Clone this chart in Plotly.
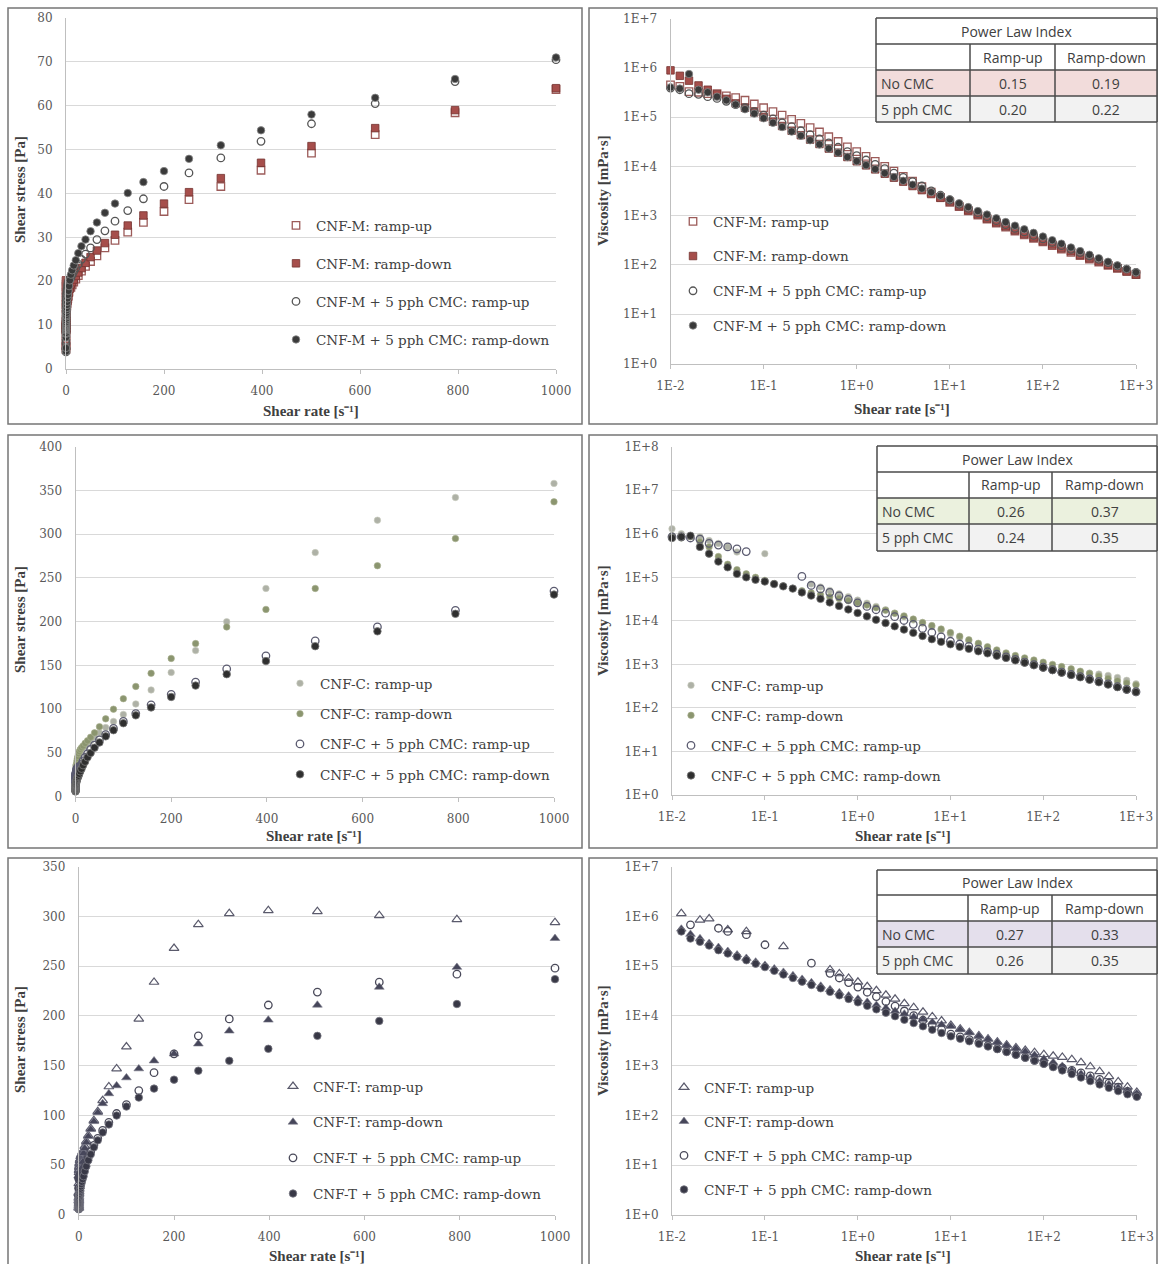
import plotly.graph_objects as go

W, H = 1159, 1264

# ---------------- data ----------------
RATE = [0.01, 0.0126, 0.0158, 0.02, 0.0251, 0.0316, 0.0398, 0.0501, 0.0631, 0.0794,
        0.1, 0.126, 0.158, 0.2, 0.251, 0.316, 0.398, 0.501, 0.631, 0.794,
        1, 1.26, 1.58, 2, 2.51, 3.16, 3.98, 5.01, 6.31, 7.94,
        10, 12.6, 15.8, 20, 25.1, 31.6, 39.8, 50.1, 63.1, 79.4,
        100, 126, 158, 200, 251, 316, 398, 501, 631, 794, 1000]

# ---- CNF-M ----
M_UP_STRESS = [4.5, 5.29, 5.21, 6.4, 7.53, 9.48, 10.75, 12.5, 13.9, 14.7,
               15.5, 16.4, 17.4, 18.0, 18.8, 19.3, 19.9, 20.0, 20.2, 19.9,
               20.0, 20.2, 20.1, 20.0, 20.1, 19.9, 19.9, 19.5, 18.9, 18.7,
               18.6, 19.2, 19.8, 20.5, 21.3, 22.3, 23.4, 24.5, 25.8, 27.6,
               29.3, 31.2, 33.4, 35.9, 38.6, 41.6, 45.3, 49.2, 53.4, 58.4, 63.7]
M_DOWN_STRESS = [8.9, 8.69, 8.69, 8.8, 9.04, 9.16, 9.35, 9.52, 9.78, 9.93,
                 10.0, 10.2, 10.4, 10.6, 10.8, 11.1, 11.3, 11.5, 12.0, 12.3,
                 12.7, 13.2, 13.7, 14.2, 14.8, 15.5, 15.9, 16.5, 17.4, 18.3,
                 19.3, 19.8, 20.4, 21.2, 22.0, 23.0, 24.2, 25.5, 27.0, 28.7,
                 30.6, 32.7, 35.0, 37.7, 40.3, 43.5, 47.0, 50.8, 54.9, 59.0, 64.0]
M_CMC_UP_STRESS = [3.9, 4.54, 4.74, 5.8, 6.53, 7.58, 8.36, 9.02, 9.78, 10.3,
                   11.0, 11.6, 12.2, 12.8, 13.3, 13.9, 14.3, 15.0, 15.5, 15.9,
                   16.5, 17.0, 17.4, 18.0, 18.3, 19.0, 19.5, 20.0, 20.2, 20.6,
                   20.8, 21.5, 22.2, 23.0, 23.9, 25.0, 26.2, 27.6, 29.5, 31.5,
                   33.7, 36.1, 38.8, 41.6, 44.7, 48.1, 51.9, 55.9, 60.5, 65.5, 70.5]
M_CMC_DOWN_STRESS = [4.0, 4.79, 11.85, 7.2, 8.03, 8.22, 8.76, 9.02, 9.15, 9.37,
                     9.5, 9.7, 9.95, 10.2, 10.5, 10.7, 11.1, 11.5, 12.0, 12.3,
                     12.8, 13.4, 13.9, 14.6, 15.3, 16.1, 16.9, 17.8, 18.9, 20.2,
                     21.5, 22.5, 23.6, 24.8, 26.4, 28.0, 29.5, 31.4, 33.4, 35.6,
                     37.7, 40.1, 42.6, 45.1, 47.9, 51.0, 54.4, 58.0, 61.8, 66.1, 71.0]

M_UP_VISC = [4.5e5, 4.2e5, 3.3e5, 3.2e5, 3.0e5, 3.0e5, 2.7e5, 2.5e5, 2.2e5, 1.85e5,
             1.55e5, 1.3e5, 1.1e5, 9.0e4, 7.5e4, 6.1e4, 5.0e4, 4.0e4, 3.2e4, 2.5e4,
             2.0e4, 1.6e4, 1.27e4, 1.0e4, 8.0e3, 6.3e3, 5.0e3, 3.9e3, 3.0e3, 2.35e3,
             1860, 1524, 1253, 1025, 849, 706, 588, 489, 409, 348,
             293, 248, 211, 180, 154, 132, 114, 98, 85, 74, 64]
M_DOWN_VISC = [8.9e5, 6.9e5, 5.5e5, 4.4e5, 3.6e5, 2.9e5, 2.35e5, 1.9e5, 1.55e5, 1.25e5,
               1.0e5, 8.1e4, 6.6e4, 5.3e4, 4.3e4, 3.5e4, 2.85e4, 2.3e4, 1.9e4, 1.55e4,
               1.27e4, 1.05e4, 8.7e3, 7.1e3, 5.9e3, 4.9e3, 4.0e3, 3.3e3, 2.75e3, 2.3e3,
               1930, 1571, 1291, 1060, 876, 728, 608, 509, 428, 361,
               306, 260, 222, 189, 161, 138, 118, 101, 87, 74, 64]
M_CMC_UP_VISC = [3.9e5, 3.6e5, 3.0e5, 2.9e5, 2.6e5, 2.4e5, 2.1e5, 1.8e5, 1.55e5, 1.3e5,
                 1.1e5, 9.2e4, 7.7e4, 6.4e4, 5.3e4, 4.4e4, 3.6e4, 3.0e4, 2.45e4, 2.0e4,
                 1.65e4, 1.35e4, 1.1e4, 9.0e3, 7.3e3, 6.0e3, 4.9e3, 4.0e3, 3.2e3, 2.6e3,
                 2080, 1706, 1405, 1150, 952, 791, 658, 551, 468, 397,
                 337, 287, 246, 208, 178, 152, 130, 112, 96, 82, 70.5]
M_CMC_DOWN_VISC = [4.0e5, 3.8e5, 7.5e5, 3.6e5, 3.2e5, 2.6e5, 2.2e5, 1.8e5, 1.45e5, 1.18e5,
                   9.5e4, 7.7e4, 6.3e4, 5.1e4, 4.2e4, 3.4e4, 2.8e4, 2.3e4, 1.9e4, 1.55e4,
                   1.28e4, 1.06e4, 8.8e3, 7.3e3, 6.1e3, 5.1e3, 4.25e3, 3.55e3, 3.0e3, 2.55e3,
                   2150, 1786, 1494, 1240, 1052, 886, 741, 627, 529, 448,
                   377, 318, 270, 226, 191, 161, 137, 116, 98, 83, 71]

# ---- CNF-C ----
C_UP_STRESS = [13.0, 12.6, 14.2, 17.0, 17.6, 19.0, 19.9, 19.0, None, None,
               35.0, None, None, None, None, 22.1, 23.9, 25.1, 26.5, 28.6,
               30.0, 32.1, 34.0, 36.0, 37.7, 39.5, 41.8, 44.1, 46.1, 48.4,
               50, 52, 55, 57, 60, 64, 68, 73, 79, 86,
               94, 106, 122, 142, 167, 200, 238, 279, 316, 342, 358]
C_DOWN_STRESS = [9.0, 10.1, 13.4, 13.0, 12.6, 9.5, 8.0, 7.5, 7.6, 7.9,
                 8.5, 9.1, 10.0, 11.0, 12.3, 13.9, 15.9, 18.0, 20.5, 23.0,
                 26.0, 29.0, 31.6, 35.0, 37.7, 41.1, 43.8, 46.1, 49.2, 51.6,
                 54, 56, 58, 61, 64, 68, 73, 80, 89, 100,
                 112, 126, 141, 158, 175, 194, 214, 238, 264, 295, 337]
C_CMC_UP_STRESS = [8.5, 10.7, 12.6, 15.0, 15.1, 17.4, 19.9, 22.5, 24.6, None,
                   None, None, None, None, 26.4, 20.5, 21.5, 22.5, 23.7, 24.6,
                   26.0, 27.1, 28.4, 30.0, 31.4, 32.2, 33.0, 33.6, 34.1, 34.1,
                   34, 37, 41, 45, 49, 54, 59, 65, 71, 78,
                   86, 95, 105, 117, 131, 146, 161, 178, 194, 213, 235]
C_CMC_DOWN_STRESS = [8.0, 10.7, 14.2, 10.0, 8.8, 7.3, 6.8, 6.0, 6.3, 7.0,
                     8.0, 8.8, 9.8, 11.0, 11.3, 12.0, 12.7, 13.3, 13.9, 14.5,
                     15.2, 16.0, 16.7, 17.8, 18.8, 19.9, 21.1, 22.5, 24.0, 26.2,
                     29, 32, 36, 40, 45, 50, 56, 62, 69, 76,
                     84, 93, 102, 114, 127, 140, 155, 172, 189, 209, 231]

C_UP_VISC = [1.3e6, 1.0e6, 9.0e5, 8.5e5, 7.0e5, 6.0e5, 5.0e5, 3.8e5, None, None,
             3.5e5, None, None, None, None, 7.0e4, 6.0e4, 5.0e4, 4.2e4, 3.6e4,
             3.0e4, 2.55e4, 2.15e4, 1.8e4, 1.5e4, 1.25e4, 1.05e4, 8.8e3, 7.3e3, 6.1e3,
             5000, 4127, 3481, 2850, 2390, 2025, 1709, 1457, 1252, 1083,
             940, 841, 772, 710, 665, 633, 598, 557, 501, 431, 358]
C_DOWN_VISC = [9.0e5, 8.0e5, 8.5e5, 6.5e5, 5.0e5, 3.0e5, 2.0e5, 1.5e5, 1.2e5, 1.0e5,
               8.5e4, 7.2e4, 6.3e4, 5.5e4, 4.9e4, 4.4e4, 4.0e4, 3.6e4, 3.25e4, 2.9e4,
               2.6e4, 2.3e4, 2.0e4, 1.75e4, 1.5e4, 1.3e4, 1.1e4, 9.2e3, 7.8e3, 6.5e3,
               5400, 4444, 3671, 3050, 2550, 2152, 1834, 1597, 1410, 1259,
               1120, 1000, 892, 790, 697, 614, 538, 475, 418, 372, 337]
C_CMC_UP_VISC = [8.5e5, 8.5e5, 8.0e5, 7.5e5, 6.0e5, 5.5e5, 5.0e5, 4.5e5, 3.9e5, None,
                 None, None, None, None, 1.05e5, 6.5e4, 5.4e4, 4.5e4, 3.75e4, 3.1e4,
                 2.6e4, 2.15e4, 1.8e4, 1.5e4, 1.25e4, 1.02e4, 8.3e3, 6.7e3, 5.4e3, 4.3e3,
                 3400, 2937, 2595, 2250, 1952, 1709, 1482, 1297, 1125, 982,
                 860, 754, 665, 585, 522, 462, 405, 355, 307, 268, 235]
C_CMC_DOWN_VISC = [8.0e5, 8.5e5, 9.0e5, 5.0e5, 3.5e5, 2.3e5, 1.7e5, 1.2e5, 1.0e5, 8.8e4,
                   8.0e4, 7.0e4, 6.2e4, 5.5e4, 4.5e4, 3.8e4, 3.2e4, 2.65e4, 2.2e4, 1.83e4,
                   1.52e4, 1.27e4, 1.06e4, 8.9e3, 7.5e3, 6.3e3, 5.3e3, 4.5e3, 3.8e3, 3.3e3,
                   2900, 2540, 2278, 2000, 1793, 1582, 1407, 1238, 1094, 957,
                   840, 738, 646, 570, 506, 443, 389, 343, 300, 263, 231]

# ---- CNF-T ----
T_UP_STRESS = [None, 14.5, None, 17.0, 22.6, None, 21.5, None, 31.6, None,
               None, None, 39.5, None, None, None, None, 42.6, 44.8, 45.7,
               48.0, 49.1, 51.2, 52.6, 55.0, 56.2, 58.9, 60.1, 61.2, 63.5,
               65, 69, 74, 80, 87, 95, 104, 115, 129, 147,
               169, 197, 234, 268, 292, 303, 306, 305, 301, 297, 294]
T_DOWN_STRESS = [None, 7.06, 6.95, 7.2, 7.28, 7.58, 7.96, 8.52, 9.15, 9.69,
                 10.5, 11.2, 12.0, 13.0, 13.8, 14.9, 15.9, 17.0, 18.6, 20.2,
                 22.0, 23.9, 26.1, 28.6, 31.4, 34.8, 38.2, 42.6, 47.3, 53.2,
                 62, 67, 73, 79, 86, 94, 103, 112, 122, 130,
                 138, 147, 155, 162, 172, 185, 196, 211, 229, 249, 278]
T_CMC_UP_STRESS = [None, None, 10.7, None, None, 18.3, 19.9, None, 27.1, None,
                   27.0, None, None, None, None, 36.3, None, 36.1, 36.6, 37.3,
                   38.0, 37.8, 38.7, 39.0, 39.7, 39.8, 40.6, 41.1, 41.6, 42.1,
                   43, 48, 53, 58, 64, 70, 77, 85, 93, 102,
                   111, 125, 143, 162, 180, 197, 211, 224, 234, 242, 248]
T_CMC_DOWN_STRESS = [None, 6.3, 5.69, 6.2, 6.53, 6.64, 7.16, 7.77, 8.33, 8.89,
                     9.6, 10.2, 10.7, 11.6, 12.3, 13.3, 14.3, 15.3, 16.4, 17.5,
                     18.8, 20.2, 21.5, 23.2, 24.8, 26.5, 28.7, 31.1, 33.4, 36.1,
                     39, 44, 49, 55, 61, 68, 75, 83, 91, 100,
                     109, 118, 127, 136, 145, 155, 167, 180, 195, 212, 237]

T_UP_VISC = [None, 1.15e6, None, 8.5e5, 9.0e5, None, 5.4e5, None, 5.0e5, None,
             None, None, 2.5e5, None, None, None, None, 8.5e4, 7.1e4, 5.75e4,
             4.8e4, 3.9e4, 3.24e4, 2.63e4, 2.19e4, 1.78e4, 1.48e4, 1.2e4, 9.7e3, 8.0e3,
             6500, 5476, 4684, 4000, 3466, 3006, 2613, 2295, 2044, 1851,
             1690, 1563, 1481, 1340, 1163, 959, 769, 609, 477, 374, 294]
T_DOWN_VISC = [None, 5.6e5, 4.4e5, 3.6e5, 2.9e5, 2.4e5, 2.0e5, 1.7e5, 1.45e5, 1.22e5,
               1.05e5, 8.9e4, 7.6e4, 6.5e4, 5.5e4, 4.7e4, 4.0e4, 3.4e4, 2.95e4, 2.55e4,
               2.2e4, 1.9e4, 1.65e4, 1.43e4, 1.25e4, 1.1e4, 9.6e3, 8.5e3, 7.5e3, 6.7e3,
               6200, 5317, 4620, 3950, 3426, 2975, 2588, 2236, 1933, 1637,
               1380, 1167, 981, 810, 685, 585, 492, 421, 363, 314, 278]
T_CMC_UP_VISC = [None, None, 6.8e5, None, None, 5.8e5, 5.0e5, None, 4.3e5, None,
                 2.7e5, None, None, None, None, 1.15e5, None, 7.2e4, 5.8e4, 4.7e4,
                 3.8e4, 3.0e4, 2.45e4, 1.95e4, 1.58e4, 1.26e4, 1.02e4, 8.2e3, 6.6e3, 5.3e3,
                 4300, 3810, 3354, 2900, 2550, 2215, 1935, 1697, 1474, 1285,
                 1110, 992, 905, 810, 717, 623, 530, 447, 371, 305, 248]
T_CMC_DOWN_VISC = [None, 5.0e5, 3.6e5, 3.1e5, 2.6e5, 2.1e5, 1.8e5, 1.55e5, 1.32e5, 1.12e5,
                   9.6e4, 8.1e4, 6.8e4, 5.8e4, 4.9e4, 4.2e4, 3.6e4, 3.05e4, 2.6e4, 2.2e4,
                   1.88e4, 1.6e4, 1.36e4, 1.16e4, 9.9e3, 8.4e3, 7.2e3, 6.2e3, 5.3e3, 4.55e3,
                   3900, 3492, 3101, 2750, 2430, 2152, 1884, 1657, 1442, 1259,
                   1090, 937, 804, 680, 578, 491, 420, 359, 309, 267, 237]

NAMES_M = ["CNF-M: ramp-up", "CNF-M: ramp-down", "CNF-M + 5 pph CMC: ramp-up", "CNF-M + 5 pph CMC: ramp-down"]
NAMES_C = ["CNF-C: ramp-up", "CNF-C: ramp-down", "CNF-C + 5 pph CMC: ramp-up", "CNF-C + 5 pph CMC: ramp-down"]
NAMES_T = ["CNF-T: ramp-up", "CNF-T: ramp-down", "CNF-T + 5 pph CMC: ramp-up", "CNF-T + 5 pph CMC: ramp-down"]

# power law index tables
TABLE_TITLE = "Power Law Index"
TABLE_COLS = ["Ramp-up", "Ramp-down"]
TABLE_ROWS = ["No CMC", "5 pph CMC"]
PLI_M = [["0.15", "0.19"], ["0.20", "0.22"]]
PLI_C = [["0.26", "0.37"], ["0.24", "0.35"]]
PLI_T = [["0.27", "0.33"], ["0.26", "0.35"]]

LIN_TICKS_X = [0, 200, 400, 600, 800, 1000]
LOG_X_VALS = [0.01, 0.1, 1, 10, 100, 1000]
LOG_X_TEXT = ["1E-2", "1E-1", "1E+0", "1E+1", "1E+2", "1E+3"]
LOG_Y_VALS = [1, 10, 100, 1e3, 1e4, 1e5, 1e6, 1e7, 1e8]
LOG_Y_TEXT = ["1E+0", "1E+1", "1E+2", "1E+3", "1E+4", "1E+5", "1E+6", "1E+7", "1E+8"]

X_TITLE = "Shear rate [s⁻¹]"
Y_TITLE_STRESS = "Shear stress [Pa]"
Y_TITLE_VISC = "Viscosity [mPa·s]"

# ---------------- styling ----------------
def px(x):
    return x / W

def py(y):
    return 1 - y / H

STY_M = [dict(symbol="square-open", color="#9c5b59", lw=1.3, lc=None, size=7.5),
         dict(symbol="square", color="#a64e4b", lw=0.8, lc="#733230", size=7.5),
         dict(symbol="circle-open", color="#555555", lw=1.3, lc=None, size=7.5),
         dict(symbol="circle", color="#3a3a3a", lw=0.8, lc="#8a8a8a", size=7.5)]
STY_C = [dict(symbol="circle", color="#aeb1a6", lw=0.6, lc="#c9ccc0", size=6.5),
         dict(symbol="circle", color="#8b956f", lw=0.6, lc="#a7af8e", size=6.5),
         dict(symbol="circle-open", color="#5b5b70", lw=1.3, lc=None, size=7.5),
         dict(symbol="circle", color="#2f2f2f", lw=0.8, lc="#7a7a7a", size=7.5)]
STY_T = [dict(symbol="triangle-up-open", color="#5a5a6c", lw=1.2, lc=None, size=8.5),
         dict(symbol="triangle-up", color="#46465a", lw=0.6, lc="#7a7a8a", size=8.5),
         dict(symbol="circle-open", color="#4a4a5a", lw=1.3, lc=None, size=7.5),
         dict(symbol="circle", color="#383846", lw=0.8, lc="#7a7a84", size=7.5)]

SERIF = "DejaVu Serif"
TICK_FONT = dict(family=SERIF, size=12, color="#595959")
LEG_FONT = dict(family=SERIF, size=13.5, color="#404040")
TITLE_FONT = dict(family="Liberation Serif", size=15, color="#404040", weight="bold")
GRID = "#d9d9d9"
AXLINE = "#bfbfbf"

# leg = (text start x, first row centre y, row spacing) in pixels
PANELS = [
    dict(n=1, x=(66, 556), y=(369, 18), kind="lin", yr=80, dt=10,
         names=NAMES_M, data=[M_UP_STRESS, M_DOWN_STRESS, M_CMC_UP_STRESS, M_CMC_DOWN_STRESS], sty=STY_M,
         leg=(316, 226, 38), xt=(311, 411), yt=(20, 190), ytitle=Y_TITLE_STRESS),
    dict(n=2, x=(670.5, 1136), y=(363.5, 18.6), kind="log", yr=7,
         names=NAMES_M, data=[M_UP_VISC, M_DOWN_VISC, M_CMC_UP_VISC, M_CMC_DOWN_VISC], sty=STY_M,
         leg=(713, 222, 34.7), xt=(902, 409), yt=(603, 190), ytitle=Y_TITLE_VISC),
    dict(n=3, x=(75.5, 554), y=(796.7, 446.7), kind="lin", yr=400, dt=50,
         names=NAMES_C, data=[C_UP_STRESS, C_DOWN_STRESS, C_CMC_UP_STRESS, C_CMC_DOWN_STRESS], sty=STY_C,
         leg=(320, 684, 30.3), xt=(314, 836), yt=(20, 620), ytitle=Y_TITLE_STRESS),
    dict(n=4, x=(672, 1136), y=(795, 446.7), kind="log", yr=8,
         names=NAMES_C, data=[C_UP_VISC, C_DOWN_VISC, C_CMC_UP_VISC, C_CMC_DOWN_VISC], sty=STY_C,
         leg=(711, 686, 30), xt=(903, 836), yt=(603, 620), ytitle=Y_TITLE_VISC),
    dict(n=5, x=(78.8, 555), y=(1215, 866.7), kind="lin", yr=350, dt=50,
         names=NAMES_T, data=[T_UP_STRESS, T_DOWN_STRESS, T_CMC_UP_STRESS, T_CMC_DOWN_STRESS], sty=STY_T,
         leg=(313, 1087, 35.7), xt=(317, 1256), yt=(20, 1040), ytitle=Y_TITLE_STRESS),
    dict(n=6, x=(672, 1136.8), y=(1215, 866.7), kind="log", yr=7,
         names=NAMES_T, data=[T_UP_VISC, T_DOWN_VISC, T_CMC_UP_VISC, T_CMC_DOWN_VISC], sty=STY_T,
         leg=(704, 1088, 34), xt=(903, 1256), yt=(603, 1040), ytitle=Y_TITLE_VISC),
]

fig = go.Figure()
layout = dict(width=W, height=H, margin=dict(l=0, r=0, t=0, b=0, pad=0, autoexpand=False),
              autosize=False, template="none",
              paper_bgcolor="white", plot_bgcolor="white", showlegend=True)
annotations = []
shapes = []

ITEM_H = 20.5      # legend row height for the legend font
ITEM_OFF = 16      # first legend row centre below legend top
for p in PANELS:
    n = p["n"]
    xa = "x" if n == 1 else f"x{n}"
    ya = "y" if n == 1 else f"y{n}"
    xkey = "xaxis" if n == 1 else f"xaxis{n}"
    ykey = "yaxis" if n == 1 else f"yaxis{n}"
    lkey = "legend" if n == 1 else f"legend{n}"
    for i, (nm, vals, st) in enumerate(zip(p["names"], p["data"], p["sty"])):
        mk = dict(symbol=st["symbol"], color=st["color"], size=st["size"],
                  line=dict(width=st["lw"], color=st["lc"] if st["lc"] else st["color"]))
        fig.add_trace(go.Scatter(x=RATE, y=vals, mode="markers", name=nm, marker=mk,
                                 xaxis=xa, yaxis=ya, legend=lkey, legendgroup=f"p{n}s{i}",
                                 cliponaxis=False, hoverinfo="skip"))
    xd = [px(p["x"][0]), px(p["x"][1])]
    yd = [py(p["y"][0]), py(p["y"][1])]
    common_x = dict(domain=xd, anchor=ya, showgrid=False, zeroline=False, showline=True,
                    linecolor=AXLINE, linewidth=1, ticks="outside", ticklen=4, tickcolor=AXLINE,
                    tickfont=TICK_FONT, ticklabelstandoff=7, automargin=False)
    common_y = dict(domain=yd, anchor=xa, showgrid=True, gridcolor=GRID, gridwidth=1,
                    zeroline=False, showline=True, linecolor=AXLINE, linewidth=1, ticks="",
                    tickfont=TICK_FONT, ticklabelstandoff=10, automargin=False)
    if p["kind"] == "lin":
        layout[xkey] = dict(range=[0, 1000], tickvals=LIN_TICKS_X, **common_x)
        layout[ykey] = dict(range=[0, p["yr"]], dtick=p["dt"], tick0=0, **common_y)
    else:
        nt = p["yr"] + 1
        layout[xkey] = dict(type="log", range=[-2, 3], tickvals=LOG_X_VALS,
                            ticktext=LOG_X_TEXT, **common_x)
        layout[ykey] = dict(type="log", range=[0, p["yr"]], tickvals=LOG_Y_VALS[:nt],
                            ticktext=LOG_Y_TEXT[:nt], **common_y)
    lx, lyc, gap = p["leg"]
    layout[lkey] = dict(x=px(lx - 40), y=py(lyc - ITEM_OFF), xanchor="left", yanchor="top",
                        bgcolor="rgba(0,0,0,0)", borderwidth=0, font=LEG_FONT, itemwidth=30,
                        traceorder="grouped", tracegroupgap=max(gap - ITEM_H, 0),
                        xref="paper", yref="paper")
    annotations.append(dict(x=px(p["xt"][0]), y=py(p["xt"][1]), xref="paper", yref="paper",
                            text=X_TITLE, showarrow=False, font=TITLE_FONT,
                            xanchor="center", yanchor="middle"))
    annotations.append(dict(x=px(p["yt"][0]), y=py(p["yt"][1]), xref="paper", yref="paper",
                            text=p["ytitle"], showarrow=False, textangle=-90,
                            font=TITLE_FONT, xanchor="center", yanchor="middle"))

# frames around each panel
FRAMES = [(8, 8, 582, 424), (589, 8, 1157, 424), (8, 435, 582, 848),
          (589, 435, 1157, 848), (8, 858, 582, 1272), (589, 858, 1157, 1272)]
for x0, y0, x1, y1 in FRAMES:
    shapes.append(dict(type="rect", xref="paper", yref="paper", x0=px(x0), x1=px(x1),
                       y0=py(y1), y1=py(y0), line=dict(color="#767676", width=1.5),
                       fillcolor="rgba(0,0,0,0)", layer="above"))

# tables
TABLES = [
    dict(xs=(876, 970, 1055, 1157), ys=(18, 44, 70, 96, 122), fill="#f2dcdb", vals=PLI_M),
    dict(xs=(877, 969, 1052, 1157), ys=(446, 472, 498, 524, 551), fill="#ebf1de", vals=PLI_C),
    dict(xs=(877, 968, 1052, 1157), ys=(870, 895, 921, 947, 974), fill="#e4dfec", vals=PLI_T),
]
TFONT = dict(family="Open Sans", size=14, color="#404040")
LC = "#4a4a4a"
for t in TABLES:
    xs, ys = t["xs"], t["ys"]
    shapes.append(dict(type="rect", xref="paper", yref="paper", x0=px(xs[0]), x1=px(xs[3]),
                       y0=py(ys[2]), y1=py(ys[0]), fillcolor="white", line=dict(width=0), layer="above"))
    shapes.append(dict(type="rect", xref="paper", yref="paper", x0=px(xs[0]), x1=px(xs[3]),
                       y0=py(ys[3]), y1=py(ys[2]), fillcolor=t["fill"], line=dict(width=0), layer="above"))
    shapes.append(dict(type="rect", xref="paper", yref="paper", x0=px(xs[0]), x1=px(xs[3]),
                       y0=py(ys[4]), y1=py(ys[3]), fillcolor="#f2f2f2", line=dict(width=0), layer="above"))
    for yy in ys:
        shapes.append(dict(type="line", xref="paper", yref="paper", x0=px(xs[0]), x1=px(xs[3]),
                           y0=py(yy), y1=py(yy), line=dict(color=LC, width=1.5), layer="above"))
    for xx in (xs[0], xs[3]):
        shapes.append(dict(type="line", xref="paper", yref="paper", x0=px(xx), x1=px(xx),
                           y0=py(ys[4]), y1=py(ys[0]), line=dict(color=LC, width=1.5), layer="above"))
    for xx in (xs[1], xs[2]):
        shapes.append(dict(type="line", xref="paper", yref="paper", x0=px(xx), x1=px(xx),
                           y0=py(ys[4]), y1=py(ys[1]), line=dict(color=LC, width=1.5), layer="above"))
    annotations.append(dict(x=px((xs[0] + xs[3]) / 2), y=py((ys[0] + ys[1]) / 2), xref="paper", yref="paper",
                            text=TABLE_TITLE, showarrow=False, font=TFONT,
                            xanchor="center", yanchor="middle"))
    for j, c in enumerate(TABLE_COLS):
        annotations.append(dict(x=px((xs[1 + j] + xs[2 + j]) / 2), y=py((ys[1] + ys[2]) / 2),
                                xref="paper", yref="paper", text=c, showarrow=False, font=TFONT,
                                xanchor="center", yanchor="middle"))
    for r, rn in enumerate(TABLE_ROWS):
        yc = py((ys[2 + r] + ys[3 + r]) / 2)
        annotations.append(dict(x=px(xs[0] + 3), y=yc, xref="paper", yref="paper", text=rn,
                                showarrow=False, xanchor="left", yanchor="middle", font=TFONT))
        for j in range(2):
            annotations.append(dict(x=px((xs[1 + j] + xs[2 + j]) / 2), y=yc, xref="paper", yref="paper",
                                    text=t["vals"][r][j], showarrow=False, font=TFONT,
                                    xanchor="center", yanchor="middle"))

layout["annotations"] = annotations
layout["shapes"] = shapes
fig.update_layout(**layout)
fig.write_html("out.html",
               post_script="document.body.style.margin='0px';document.body.style.overflow='hidden';")
